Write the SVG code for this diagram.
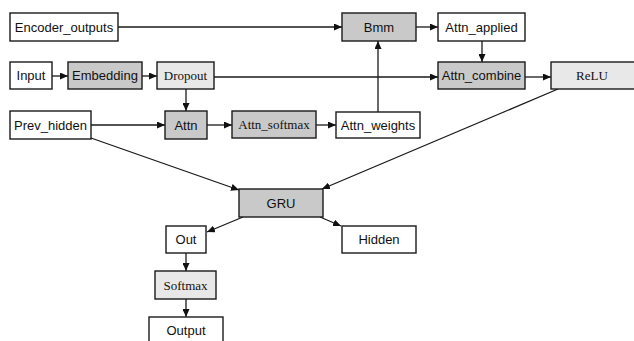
<svg xmlns="http://www.w3.org/2000/svg" width="634" height="341" viewBox="0 0 634 341">
<style>
  .box { stroke: #1a1a1a; stroke-width: 1.4; }
  .w { fill: #ffffff; }
  .d { fill: #c9c9c9; }
  .l { fill: #e8e8e8; }
  .sans { font-family: "Liberation Sans", Arial, sans-serif; font-size: 13px; fill: #111; text-anchor: middle; }
  .serif { font-family: "Liberation Serif", "Times New Roman", serif; font-size: 13px; fill: #111; text-anchor: middle; }
  .edge { stroke: #1a1a1a; stroke-width: 1.3; fill: none; marker-end: url(#arr); }
</style>
<defs>
  <marker id="arr" markerUnits="userSpaceOnUse" markerWidth="8" markerHeight="7" refX="8" refY="3.5" orient="auto">
    <path d="M0,0 L8,3.5 L0,7 Z" fill="#111"/>
  </marker>
</defs>
<rect width="634" height="341" fill="#ffffff"/>
<g id="connectors">
  <line class="edge" x1="118" y1="27" x2="342" y2="27"/>
  <line class="edge" x1="416" y1="27" x2="438" y2="27"/>
  <line class="edge" x1="52" y1="76" x2="68" y2="76"/>
  <line class="edge" x1="142" y1="76" x2="157" y2="76"/>
  <line class="edge" x1="214" y1="77" x2="438" y2="77"/>
  <line class="edge" x1="186" y1="89" x2="186" y2="111"/>
  <line class="edge" x1="482" y1="41" x2="482" y2="62"/>
  <line class="edge" x1="525" y1="77" x2="551" y2="77"/>
  <line class="edge" x1="91" y1="125" x2="165" y2="125"/>
  <line class="edge" x1="207" y1="125" x2="232" y2="125"/>
  <line class="edge" x1="316" y1="125" x2="336" y2="125"/>
  <line class="edge" x1="378" y1="112" x2="378" y2="41"/>
  <line class="edge" x1="91" y1="138" x2="239" y2="190"/>
  <line class="edge" x1="558" y1="89" x2="322" y2="189"/>
  <line class="edge" x1="243" y1="217" x2="207" y2="232"/>
  <line class="edge" x1="320" y1="217" x2="341" y2="226"/>
  <line class="edge" x1="186" y1="253" x2="186" y2="271"/>
  <line class="edge" x1="186" y1="299" x2="186" y2="317"/>
</g>
<g id="encoder_outputs"><rect class="box w" x="10" y="13" width="108" height="28"/><text class="sans" x="64" y="31.5">Encoder_outputs</text></g>
<g id="input"><rect class="box w" x="10" y="62" width="42" height="27"/><text class="sans" x="31" y="80">Input</text></g>
<g id="embedding"><rect class="box d" x="68" y="62" width="74" height="27"/><text class="sans" x="105" y="80">Embedding</text></g>
<g id="dropout"><rect class="box l" x="157" y="62" width="57" height="27"/><text class="serif" x="185.5" y="80">Dropout</text></g>
<g id="bmm"><rect class="box d" x="342" y="13" width="74" height="28"/><text class="sans" x="379" y="31.5">Bmm</text></g>
<g id="attn_applied"><rect class="box w" x="438" y="13" width="87" height="28"/><text class="sans" x="481.5" y="31.5">Attn_applied</text></g>
<g id="attn_combine"><rect class="box d" x="438" y="62" width="87" height="27"/><text class="sans" x="481.5" y="80">Attn_combine</text></g>
<g id="relu"><rect class="box l" x="551" y="62" width="86" height="27"/><text class="serif" x="592" y="80">ReLU</text></g>
<g id="prev_hidden"><rect class="box w" x="10" y="111" width="81" height="28"/><text class="sans" x="50.5" y="129.5">Prev_hidden</text></g>
<g id="attn"><rect class="box d" x="165" y="111" width="42" height="28"/><text class="sans" x="186" y="129.5">Attn</text></g>
<g id="attn_softmax"><rect class="box d" x="232" y="111" width="84" height="27"/><text class="serif" x="274" y="129">Attn_softmax</text></g>
<g id="attn_weights"><rect class="box w" x="336" y="112" width="84" height="26"/><text class="sans" x="378" y="129.5">Attn_weights</text></g>
<g id="gru"><rect class="box d" x="239" y="189" width="84" height="28"/><text class="sans" x="281" y="207.5">GRU</text></g>
<g id="out"><rect class="box w" x="166" y="226" width="40" height="27"/><text class="sans" x="186" y="244">Out</text></g>
<g id="hidden"><rect class="box w" x="342" y="226" width="74" height="27"/><text class="sans" x="379" y="244">Hidden</text></g>
<g id="softmax"><rect class="box l" x="155" y="271" width="61" height="28"/><text class="serif" x="185.5" y="289.5">Softmax</text></g>
<g id="output"><rect class="box w" x="149" y="317" width="74" height="32"/><text class="sans" x="186" y="335">Output</text></g>
</svg>
